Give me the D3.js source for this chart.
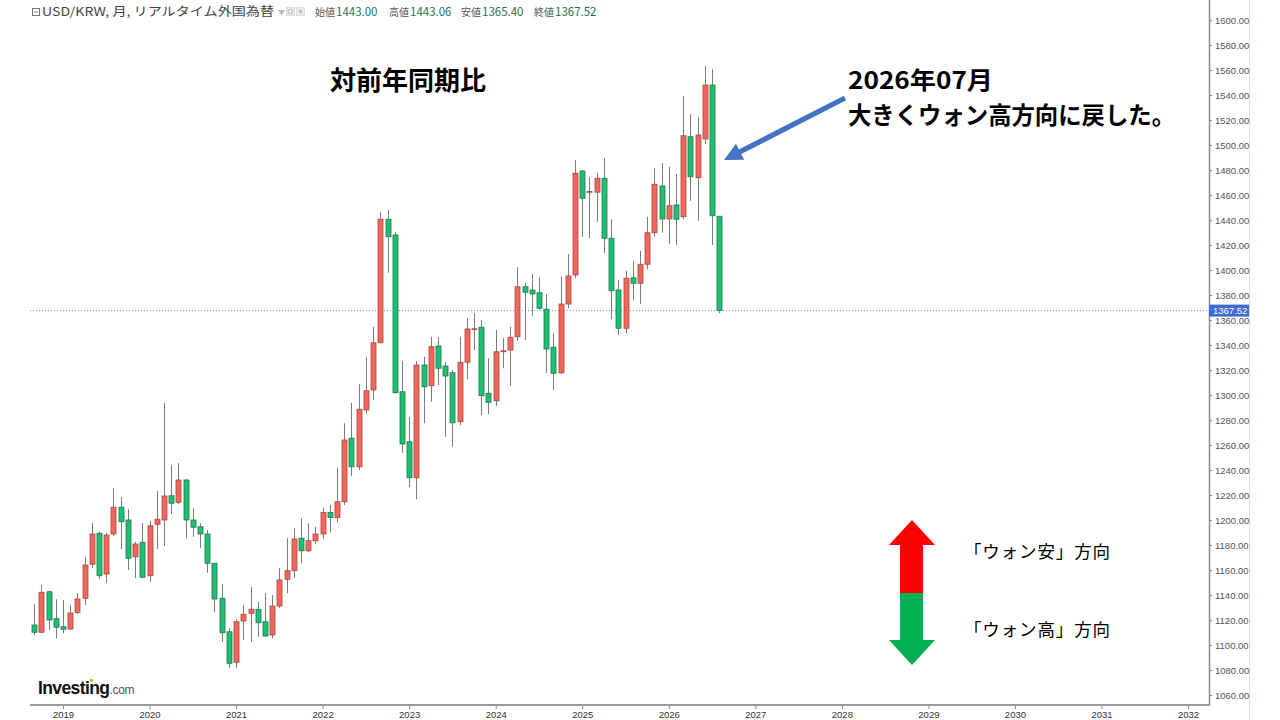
<!DOCTYPE html>
<html><head><meta charset="utf-8">
<script src="https://cdn.jsdelivr.net/npm/d3@7/dist/d3.min.js"></script>
<style>body{margin:0;background:#fff;}svg{display:block;}</style>
</head><body>
<svg id="chart" width="1280" height="720"></svg>
<script>
// ---- data (monthly USD/KRW candles, first = 2018-09) ----
const firstMonth = "2018-09";
const opens = [1116,1110.2,1142.6,1121,1114.6,1112.8,1126,1137.4,1164.6,1189.4,
1156.8,1188.8,1210.2,1200,1170.6,1182.2,1155.4,1196.6,1200,1219.4,
1214.2,1232,1200,1194.6,1188.8,1165.4,1137.4,1110.6,1086.2,1119.2,
1125.4,1128.6,1118.6,1108,1131.2,1152.6,1159.4,1185.4,1175.4,1183.4,
1188.8,1206,1202,1214.6,1265.4,1242.6,1288,1304,1341.8,1440.6,
1428,1302.6,1262.6,1233.8,1324,1307.4,1339.2,1323.2,1317.8,1278.6,
1326.2,1352.6,1354.2,1301.4,1295.4,1334.6,1336,1346.6,1386.6,1384,
1381.8,1368.6,1338.2,1317.8,1372.8,1396,1479.2,1462.6,1462.2,1473.4,
1425.4,1384,1353.4,1393.8,1389.4,1404.6,1429.8,1467.2,1440.8,1452,
1442.6,1506.6,1473.8,1504.8,1548,1443.00];
const highs = [1132.6,1148,1143.5,1136.6,1136,1132,1141.4,1170.2,1197.8,1190.6,
1189.8,1225.4,1218.2,1208.6,1182.6,1197.4,1199.2,1223.4,1293.8,1244,
1245.4,1232.8,1209.4,1197.4,1192,1165.6,1148.8,1113.4,1120.6,1132,
1146.6,1134.6,1141.4,1140,1161.4,1185.4,1193.4,1201.4,1197.4,1194.6,
1210,1212,1242,1277.4,1293.8,1308.6,1330.2,1354.6,1446.6,1448,
1430.6,1327.2,1282.2,1327.2,1330.6,1346.6,1346.2,1326.6,1320,1346.6,
1361.4,1365.4,1360,1329.4,1352,1345.4,1354.6,1402.2,1389.8,1396.8,
1394.2,1380.8,1349.4,1394.6,1412.8,1488,1480,1474.2,1477.8,1489.4,
1440.6,1392,1399.4,1407.2,1415.4,1442.6,1481.4,1485.4,1482.6,1476.8,
1539.2,1524.6,1522.2,1563.2,1560.6,1443.06];
const lows = [1108,1109.4,1112,1105.4,1109.4,1112,1124.8,1132,1161.4,1152.8,
1149.8,1187.2,1176.6,1160,1153.4,1153.4,1150.6,1176.8,1179.2,1204.8,
1212.8,1185.4,1186.6,1177.4,1157.8,1126.2,1102.6,1081.4,1081.4,1104,
1102.6,1106.6,1106.6,1105.4,1129.4,1141.4,1153.4,1165.4,1174.2,1180.8,
1185,1190,1198,1212,1235.2,1240,1285.4,1296,1341.4,1397.8,
1301.4,1253.8,1226.2,1216.6,1277.4,1294.6,1308,1266.6,1258.6,1276,
1312.6,1336,1284,1284.8,1291.2,1321.4,1307.2,1343.4,1344,1363.4,
1368,1317.8,1304,1316.8,1369.4,1393.4,1426.6,1425.4,1438.6,1413.4,
1360.6,1348,1349.4,1376,1372.8,1400.6,1426.6,1429.8,1420.6,1420,
1440.6,1455.4,1439.4,1500.8,1420,1365.40];
const closes = [1110.2,1142.2,1120,1114.2,1112.6,1125.6,1136.8,1164,1188.8,1155.4,
1188,1210.2,1198.6,1169.4,1180.8,1154.2,1195.4,1200.6,1219.2,1213.4,
1232,1200,1194.2,1188.8,1165.4,1136.8,1109.8,1085.4,1118.6,1124.6,
1128.6,1117.8,1107.2,1131.2,1152,1159.4,1184.8,1175.4,1183.4,1188.8,
1206,1202,1214.6,1264,1242.6,1288.6,1303.4,1341.8,1440.6,1426.6,
1301.8,1260.8,1233.8,1324,1306.6,1338.6,1321.4,1315.2,1277.8,1326.2,
1352.8,1353,1299.4,1294.2,1334.6,1335.4,1346.2,1386.6,1382.2,1380.8,
1369.4,1336.8,1317.4,1372.8,1395.2,1477.4,1457.4,1462.8,1473.4,1425.4,
1383.4,1353.4,1393.4,1389.4,1404.6,1429.8,1468.6,1440.8,1451.4,1440.6,
1507.4,1474.6,1508,1548,1443.4,1367.52];
const yearLabels = ["2019","2020","2021","2022","2023","2024","2025","2026","2027","2028","2029","2030","2031","2032"];
const priceTicks = [1060,1080,1100,1120,1140,1160,1180,1200,1220,1240,1260,1280,1300,1320,1340,1360,1380,1400,1420,1440,1460,1480,1500,1520,1540,1560,1580,1600];
const lastPrice = 1367.52;
const header = [["始値","1443.00"],["高値","1443.06"],["安値","1365.40"],["終値","1367.52"]];

// ---- layout ----
const W = 1280, H = 720;
const plotLeft = 30, plotRight = 1209, plotBottom = 705;
const svg = d3.select("#chart");
const JP = "'Noto Sans CJK JP','Noto Sans',sans-serif";
const AX = "'Liberation Sans',Arial,sans-serif";

// month index 4 = Jan 2019, 160 = Jan 2032
const x = d3.scaleLinear().domain([4, 160]).range([63, 1188]);
const y = d3.scaleLinear().domain([1060, 1600]).range([695, 20]);

const data = opens.map((o, i) => ({i, o, h: highs[i], l: lows[i], c: closes[i]}));

// ---- right axis ----
svg.append("line").attr("x1", 1249.5).attr("x2", 1249.5).attr("y1", 0).attr("y2", H)
  .attr("stroke", "#dcdcdc").attr("stroke-width", 1);
const yAxis = d3.axisRight(y).tickValues(priceTicks).tickFormat(d3.format(".2f")).tickSize(3).tickPadding(3);
const gy = svg.append("g").attr("transform", `translate(${plotRight},0)`).call(yAxis);
gy.select(".domain").remove();
gy.selectAll(".tick line").attr("stroke", "#888");
gy.selectAll(".tick text").attr("fill", "#555").style("font-family", AX).style("font-size", "9.5px");
svg.append("line").attr("x1", plotRight + 0.5).attr("x2", plotRight + 0.5).attr("y1", 0).attr("y2", plotBottom)
  .attr("stroke", "#8a8a8a").attr("stroke-width", 1.5);

// ---- bottom axis ----
const xAxis = d3.axisBottom(x).tickValues(yearLabels.map((d, k) => 4 + 12 * k))
  .tickFormat((d, k) => yearLabels[k]).tickSize(4).tickPadding(2);
const gx = svg.append("g").attr("transform", `translate(0,${plotBottom})`).call(xAxis);
gx.select(".domain").remove();
gx.selectAll(".tick line").attr("stroke", "#888");
gx.selectAll(".tick text").attr("fill", "#333").style("font-family", AX).style("font-size", "9.5px");
svg.append("line").attr("x1", plotLeft).attr("x2", plotRight + 1).attr("y1", plotBottom).attr("y2", plotBottom)
  .attr("stroke", "#9a9a9a").attr("stroke-width", 2);

// ---- last price line ----
svg.append("line").attr("x1", plotLeft).attr("x2", plotRight).attr("y1", y(lastPrice)).attr("y2", y(lastPrice))
  .attr("stroke", "#6f8fe6").attr("stroke-width", 1).attr("stroke-dasharray", "1,2");
svg.append("rect").attr("x", plotRight).attr("y", y(lastPrice) - 6).attr("width", 40).attr("height", 12)
  .attr("fill", "#3d6ad6");
svg.append("text").attr("x", plotRight + 4).attr("y", y(lastPrice) + 3.5).text(d3.format(".2f")(lastPrice))
  .attr("fill", "#fff").style("font-family", AX).style("font-size", "9.5px");

// ---- candles ----
const bw = 5;
const g = svg.append("g");
const up = d => d.c >= d.o;
g.selectAll("line.wick").data(data).join("line").attr("class", "wick")
  .attr("x1", d => Math.round(x(d.i)) + 0.5).attr("x2", d => Math.round(x(d.i)) + 0.5)
  .attr("y1", d => y(d.h)).attr("y2", d => y(d.l))
  .attr("stroke", "#718079").attr("stroke-width", 1);
g.selectAll("rect.body").data(data).join("rect").attr("class", "body")
  .attr("x", d => Math.round(x(d.i)) - bw / 2 + 0.5)
  .attr("y", d => y(Math.max(d.o, d.c)))
  .attr("width", bw)
  .attr("height", d => Math.max(0.8, Math.abs(y(d.o) - y(d.c))))
  .attr("fill", d => up(d) ? "#f2675b" : "#1fbf74")
  .attr("stroke", d => up(d) ? "#a8463c" : "#1b7a4c")
  .attr("stroke-width", 0.8);

// ---- header ----
const hg = svg.append("g").style("font-family", JP);
hg.append("rect").attr("x", 32.5).attr("y", 8.5).attr("width", 7).attr("height", 7).attr("fill", "none").attr("stroke", "#777");
hg.append("line").attr("x1", 34).attr("x2", 38).attr("y1", 12).attr("y2", 12).attr("stroke", "#777");
hg.append("text").attr("x", 42).attr("y", 16).attr("fill", "#444").style("font-size", "12px")
  .text("USD/KRW, 月, リアルタイム外国為替")
  .attr("textLength", 232).attr("lengthAdjust", "spacingAndGlyphs");
hg.append("text").attr("x", 278).attr("y", 14.5).attr("fill", "#bbb").style("font-size", "7px").text("▼");
hg.append("rect").attr("x", 286.5).attr("y", 7.5).attr("width", 8).attr("height", 8).attr("fill", "#ececec").attr("stroke", "#ddd");
hg.append("circle").attr("cx", 290.5).attr("cy", 11.5).attr("r", 2.3).attr("fill", "none").attr("stroke", "#bbb");
hg.append("rect").attr("x", 296.5).attr("y", 7.5).attr("width", 8).attr("height", 8).attr("fill", "#ececec").attr("stroke", "#ddd");
hg.append("circle").attr("cx", 300.5).attr("cy", 11.5).attr("r", 1.8).attr("fill", "#bbb");
const hx = [315, 389, 461, 534];
header.forEach((p, k) => {
  hg.append("text").attr("x", hx[k]).attr("y", 16).attr("fill", "#555").style("font-size", "10px").text(p[0]);
  hg.append("text").attr("x", hx[k] + 21).attr("y", 16).attr("fill", "#2a6e4c").style("font-size", "11.5px").text(p[1]);
});

// ---- annotations ----
svg.append("text").attr("x", 330).attr("y", 90).text("対前年同期比")
  .style("font-family", JP).style("font-size", "26px").style("font-weight", "bold").attr("fill", "#000");
svg.append("text").attr("x", 848).attr("y", 89).text("2026年07月")
  .style("font-family", JP).style("font-size", "24px").style("font-weight", "bold").attr("fill", "#000")
  .attr("textLength", 145).attr("lengthAdjust", "spacingAndGlyphs");
svg.append("text").attr("x", 848).attr("y", 124).text("大きくウォン高方向に戻した。")
  .style("font-family", JP).style("font-size", "24px").style("font-weight", "bold").attr("fill", "#000")
  .attr("textLength", 327).attr("lengthAdjust", "spacingAndGlyphs");

// blue arrow pointing at the July candle
const tip = [x(94) + 12, y(1488)];
const tail = [845, 98];
const dx = tip[0] - tail[0], dy = tip[1] - tail[1], len = Math.hypot(dx, dy);
const ux = dx / len, uy = dy / len, px = -uy, py = ux;
const hl = 18, hw = 9, sw = 2.6;
const b = [tip[0] - ux * hl, tip[1] - uy * hl];
const arrowPts = [
  [tail[0] + px * sw, tail[1] + py * sw],
  [b[0] + px * sw, b[1] + py * sw],
  [b[0] + px * hw, b[1] + py * hw],
  tip,
  [b[0] - px * hw, b[1] - py * hw],
  [b[0] - px * sw, b[1] - py * sw],
  [tail[0] - px * sw, tail[1] - py * sw]
];
svg.append("polygon").attr("points", arrowPts.map(p => p.join(",")).join(" ")).attr("fill", "#4472c4");

// up / down legend arrows
svg.append("polygon").attr("points", "912,520 935,545 923,545 923,593 900,593 900,545 889,545").attr("fill", "#ff0000");
svg.append("polygon").attr("points", "900,593 923,593 923,640 935,640 912,665 889,640 900,640").attr("fill", "#00b050");
svg.append("text").attr("x", 964).attr("y", 558).text("「ウォン安」方向")
  .style("font-family", JP).style("font-size", "17.5px").attr("fill", "#000")
  .attr("textLength", 146).attr("lengthAdjust", "spacing");
svg.append("text").attr("x", 964).attr("y", 636).text("「ウォン高」方向")
  .style("font-family", JP).style("font-size", "17.5px").attr("fill", "#000")
  .attr("textLength", 146).attr("lengthAdjust", "spacing");

// investing.com logo
const lg = svg.append("text").attr("x", 38).attr("y", 694).style("font-family", AX);
lg.append("tspan").text("Investing").style("font-size", "17.5px").style("font-weight", "bold").attr("fill", "#111").attr("letter-spacing", "-0.6");
lg.append("tspan").text(".com").style("font-size", "12px").attr("fill", "#555").attr("letter-spacing", "-0.3");
svg.append("circle").attr("cx", 91.5).attr("cy", 680.5).attr("r", 1.7).attr("fill", "#f5a623");
</script>
</body></html>
